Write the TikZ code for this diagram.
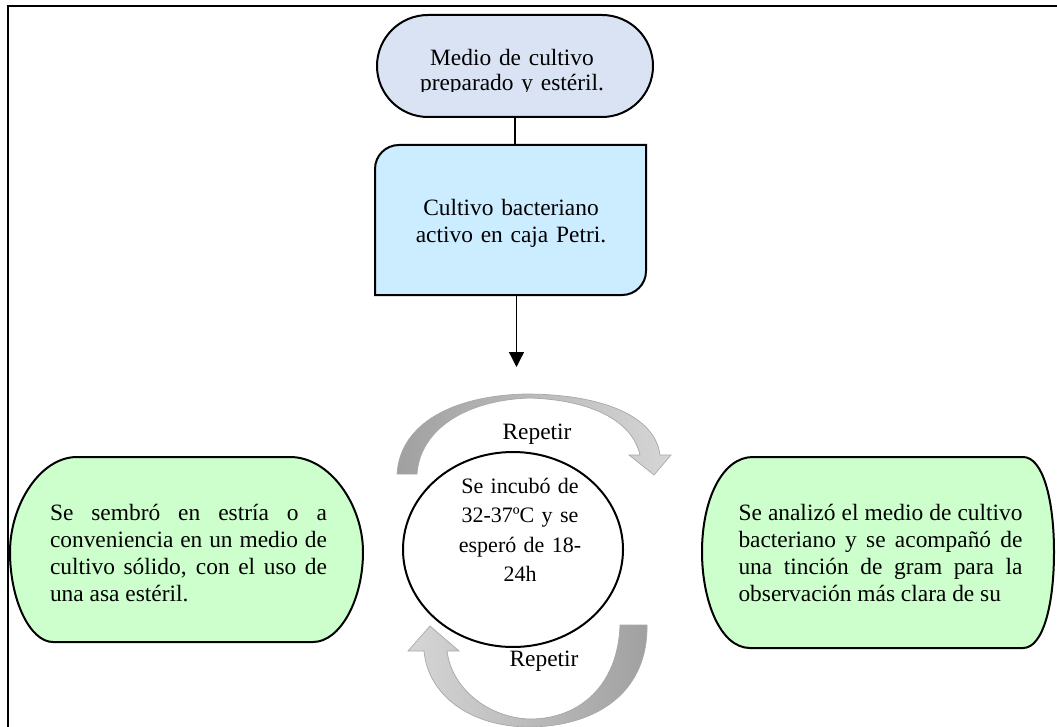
\documentclass[tikz,border=0pt]{standalone}
\usepackage{fontspec}
\setmainfont{Liberation Serif}
\usetikzlibrary{shapes.geometric,shapes.misc,arrows.meta}

\definecolor{termfill}{RGB}{218,227,243}
\definecolor{procfill}{RGB}{204,236,255}
\definecolor{stepfill}{RGB}{204,255,204}
\definecolor{arcdark}{RGB}{160,160,160}
\definecolor{arclight}{RGB}{214,214,214}
\definecolor{arcedge}{RGB}{168,168,168}

\tolerance=10000
\hyphenpenalty=10000
\exhyphenpenalty=10000

\begin{document}
\begin{tikzpicture}[x=1pt,y=-1pt,
  outline/.style={draw=black, line width=2pt},
  txt/.style={inner sep=0pt, anchor=base, font=\fontsize{23.4}{27}\selectfont},
  link/.style={draw=black, line width=1.3pt},
  cyclearrow/.style={draw=arcedge, line width=0.7pt},
  hidden/.style={inner sep=0pt, draw=none}]
\useasboundingbox (0,0) rectangle (1057,727);

% page frame (top and left rules)
\draw[line width=2pt] (7.5,727) -- (7.5,6) -- (1057,6);

% start: prepared medium
\node[rounded rectangle, outline, fill=termfill, minimum width=276pt,
      minimum height=102pt, inner sep=0pt] (medio) at (515,66) {};
\begin{scope}
  \clip (370,10) rectangle (660,92);
  \node[txt, text width=260pt, align=center, font=\fontsize{23.4}{25}\selectfont]
    (mediotxt) at (512,66) {Medio de cultivo\\preparado y estéril.};
\end{scope}

% active culture box (two rounded corners)
\path[outline, fill=procfill] (375,295) -- (375,169)
  .. controls (375,155.7) and (385.7,145) .. (399,145) -- (646,145) -- (646,271)
  .. controls (646,284.3) and (635.3,295) .. (622,295) -- cycle;
\node[hidden, minimum width=271pt, minimum height=150pt] (cultivo) at (510.5,220) {};
\node[txt, text width=240pt, align=center] (cultivotxt) at (511,216)
  {Cultivo bacteriano\\activo en caja Petri.};

% connectors
\coordinate (incub) at (516.5,367);
\draw[link] (medio.south) -- (medio.south |- cultivo.north);
\draw[link, -{Triangle[width=15pt,length=15pt]}] (cultivo.south -| incub) -- (incub);

% incubation ellipse
\node[ellipse, outline, fill=white, minimum width=220pt, minimum height=195pt,
      inner sep=0pt] (incubacion) at (513,549.5) {};
\node[txt, text width=150pt, align=center, font=\fontsize{22}{29.5}\selectfont]
  (incubtxt) at (520,493) {Se incubó de\\32-37ºC y se\\esperó de 18-\\24h};

% left step: streaking
\path[outline, fill=stepfill] (77,457) -- (290,457)
  .. controls (330,457) and (363,505) .. (363,552)
  .. controls (363,600) and (340,642) .. (313,642) -- (53,642)
  .. controls (30,642) and (10,600) .. (10,552)
  .. controls (10,505) and (40,457) .. (77,457) -- cycle;
\node[hidden, minimum width=353pt, minimum height=185pt] (sembro) at (186.5,549.5) {};
\node[txt, text width=277pt, align=justify] (sembrotxt) at (188.5,520)
  {Se sembró en estría o a\linebreak conveniencia en un medio de\linebreak
   cultivo sólido, con el uso de\linebreak una asa estéril.};

% right step: analysis
\path[outline, fill=stepfill] (753,457) -- (1023,457)
  .. controls (1043,457) and (1054,500) .. (1054,552)
  .. controls (1054,605) and (1043,648) .. (1023,648) -- (750,648)
  .. controls (720,648) and (702,600) .. (702,552)
  .. controls (702,500) and (722,457) .. (753,457) -- cycle;
\node[hidden, minimum width=352pt, minimum height=191pt] (analisis) at (878,552.5) {};
\node[txt, text width=284pt, align=justify] (analisistxt) at (880.5,520)
  {Se analizó el medio de cultivo\linebreak bacteriano y se acompañó de\linebreak
   una tinción de gram para la\linebreak observación más clara de su\parfillskip=0pt};

% repeat cycle arrows
\shadedraw[cyclearrow, left color=arcdark, right color=arclight]
  (397,474) .. controls (400,425) and (450,396) .. (525,394)
  .. controls (600,394) and (655,415) .. (660,455)
  -- (671,455) -- (654,475) -- (629,455) -- (640,455)
  .. controls (632,420) and (590,400) .. (530,398)
  .. controls (465,400) and (420,430) .. (417,474) -- cycle;
\shadedraw[cyclearrow, left color=arclight, right color=arcdark]
  (647,625) .. controls (648,690) and (600,726) .. (530,727)
  .. controls (470,727) and (428,695) .. (424,651)
  -- (408,651) -- (430,626) -- (459,651) -- (447,651)
  .. controls (452,690) and (490,718) .. (530,719)
  .. controls (580,719) and (618,685) .. (620,625) -- cycle;

\node[txt] (repetir1) at (537,439) {Repetir};
\node[txt] (repetir2) at (544,666) {Repetir};
\end{tikzpicture}
\end{document}
